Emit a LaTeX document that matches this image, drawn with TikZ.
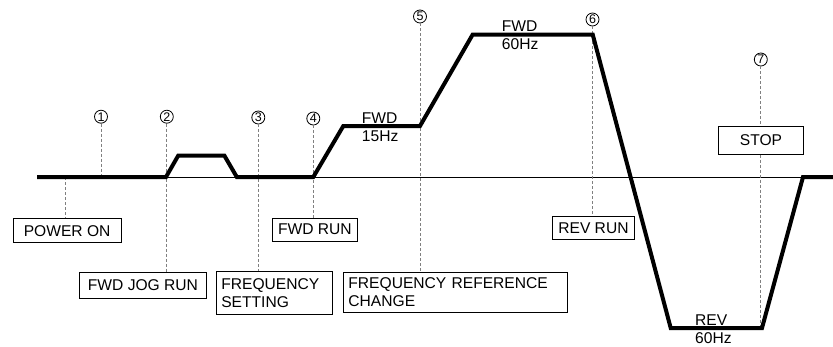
\documentclass[tikz,border=0pt]{standalone}
\usepackage{fontspec}
\setmainfont{Liberation Sans}
\begin{document}
\begin{tikzpicture}[x=1pt,y=-1pt,
  txt/.style={font=\fontsize{15.6}{17.6}\selectfont, inner sep=0pt},
  lbl/.style={txt, draw, line width=0.9pt, anchor=north west, inner sep=0pt},
  num/.style={circle, draw, line width=0.8pt, minimum size=13pt, inner sep=0pt, font=\fontsize{12.5}{12.5}\selectfont},
  guide/.style={draw=black!50, line width=0.8pt, dash pattern=on 3pt off 2pt},
  profile/.style={line width=4pt, line join=miter},
  axis/.style={line width=1pt}]
\useasboundingbox (0,0) rectangle (833,346);
% axis
\coordinate (a0) at (37,177);
\coordinate (a1) at (833,177);
\draw[axis] (a0) -- (a1);
% boxes
\node[lbl, minimum width=108pt, minimum height=24pt] (pon) at (12.7,218.3) {POWER ON};
\node[lbl, minimum width=126.4pt, minimum height=26pt] (jog) at (79.3,271.7) {FWD JOG RUN};
\node[lbl, minimum width=115.7pt, minimum height=43.6pt, text width=106pt, align=left, inner xsep=4.7pt] (freq) at (216,270.7) {FREQUENCY\\SETTING};
\node[lbl, minimum width=84.4pt, minimum height=23pt] (fwdrun) at (272.3,217.7) {FWD RUN};
\node[lbl, minimum width=223.4pt, minimum height=40pt, text width=214pt, align=left, inner xsep=4.4pt] (refchg) at (343.3,271.7) {FREQUENCY REFERENCE\\CHANGE};
\node[lbl, minimum width=82.6pt, minimum height=23pt] (revrun) at (551.7,216) {REV RUN};
\node[lbl, minimum width=84.4pt, minimum height=27.7pt] (stop) at (718.3,126) {STOP};
% numbered circles
\node[num] (c1) at (101,116.7) {1};
\node[num] (c2) at (166.8,116.7) {2};
\node[num] (c3) at (258.3,117.5) {3};
\node[num] (c4) at (313.3,118.5) {4};
\node[num] (c5) at (420,16.5) {5};
\node[num] (c6) at (592.5,19.5) {6};
\node[num] (c7) at (760.8,59.5) {7};
% guides
\coordinate (g1) at (101,177);
\coordinate (g0) at (65.7,177);
\coordinate (g7) at (760.8,328);
\draw[guide] (c1) -- (g1);
\draw[guide] (g0) -- (g0 |- pon.north);
\draw[guide] (c2) -- (c2 |- jog.north);
\draw[guide] (c3) -- (c3 |- freq.north);
\draw[guide] (c4) -- (c4 |- fwdrun.north);
\draw[guide] (c5) -- (c5 |- refchg.north);
\draw[guide] (c6) -- (c6 |- revrun.north);
\draw[guide] (c7) -- (c7 |- stop.north);
\draw[guide] (c7 |- stop.south) -- (g7);
% speed profile
\draw[profile] (37,177) -- (166,177) -- (178.3,155.5) -- (224.3,155.5) -- (236.8,177)
  -- (313.3,177) -- (343.3,126) -- (420,126) -- (472.7,34.5) -- (592.7,34.5)
  -- (670.7,328) -- (762,328) -- (803,177) -- (833,177);
% level labels
\node[txt, align=left, anchor=west] (l15) at (361.7,127) {FWD\\15Hz};
\node[txt, align=left, anchor=west] (l60) at (501.7,35.5) {FWD\\60Hz};
\node[txt, align=left, anchor=west] (lrev) at (695,329) {REV\\60Hz};
\end{tikzpicture}
\end{document}
